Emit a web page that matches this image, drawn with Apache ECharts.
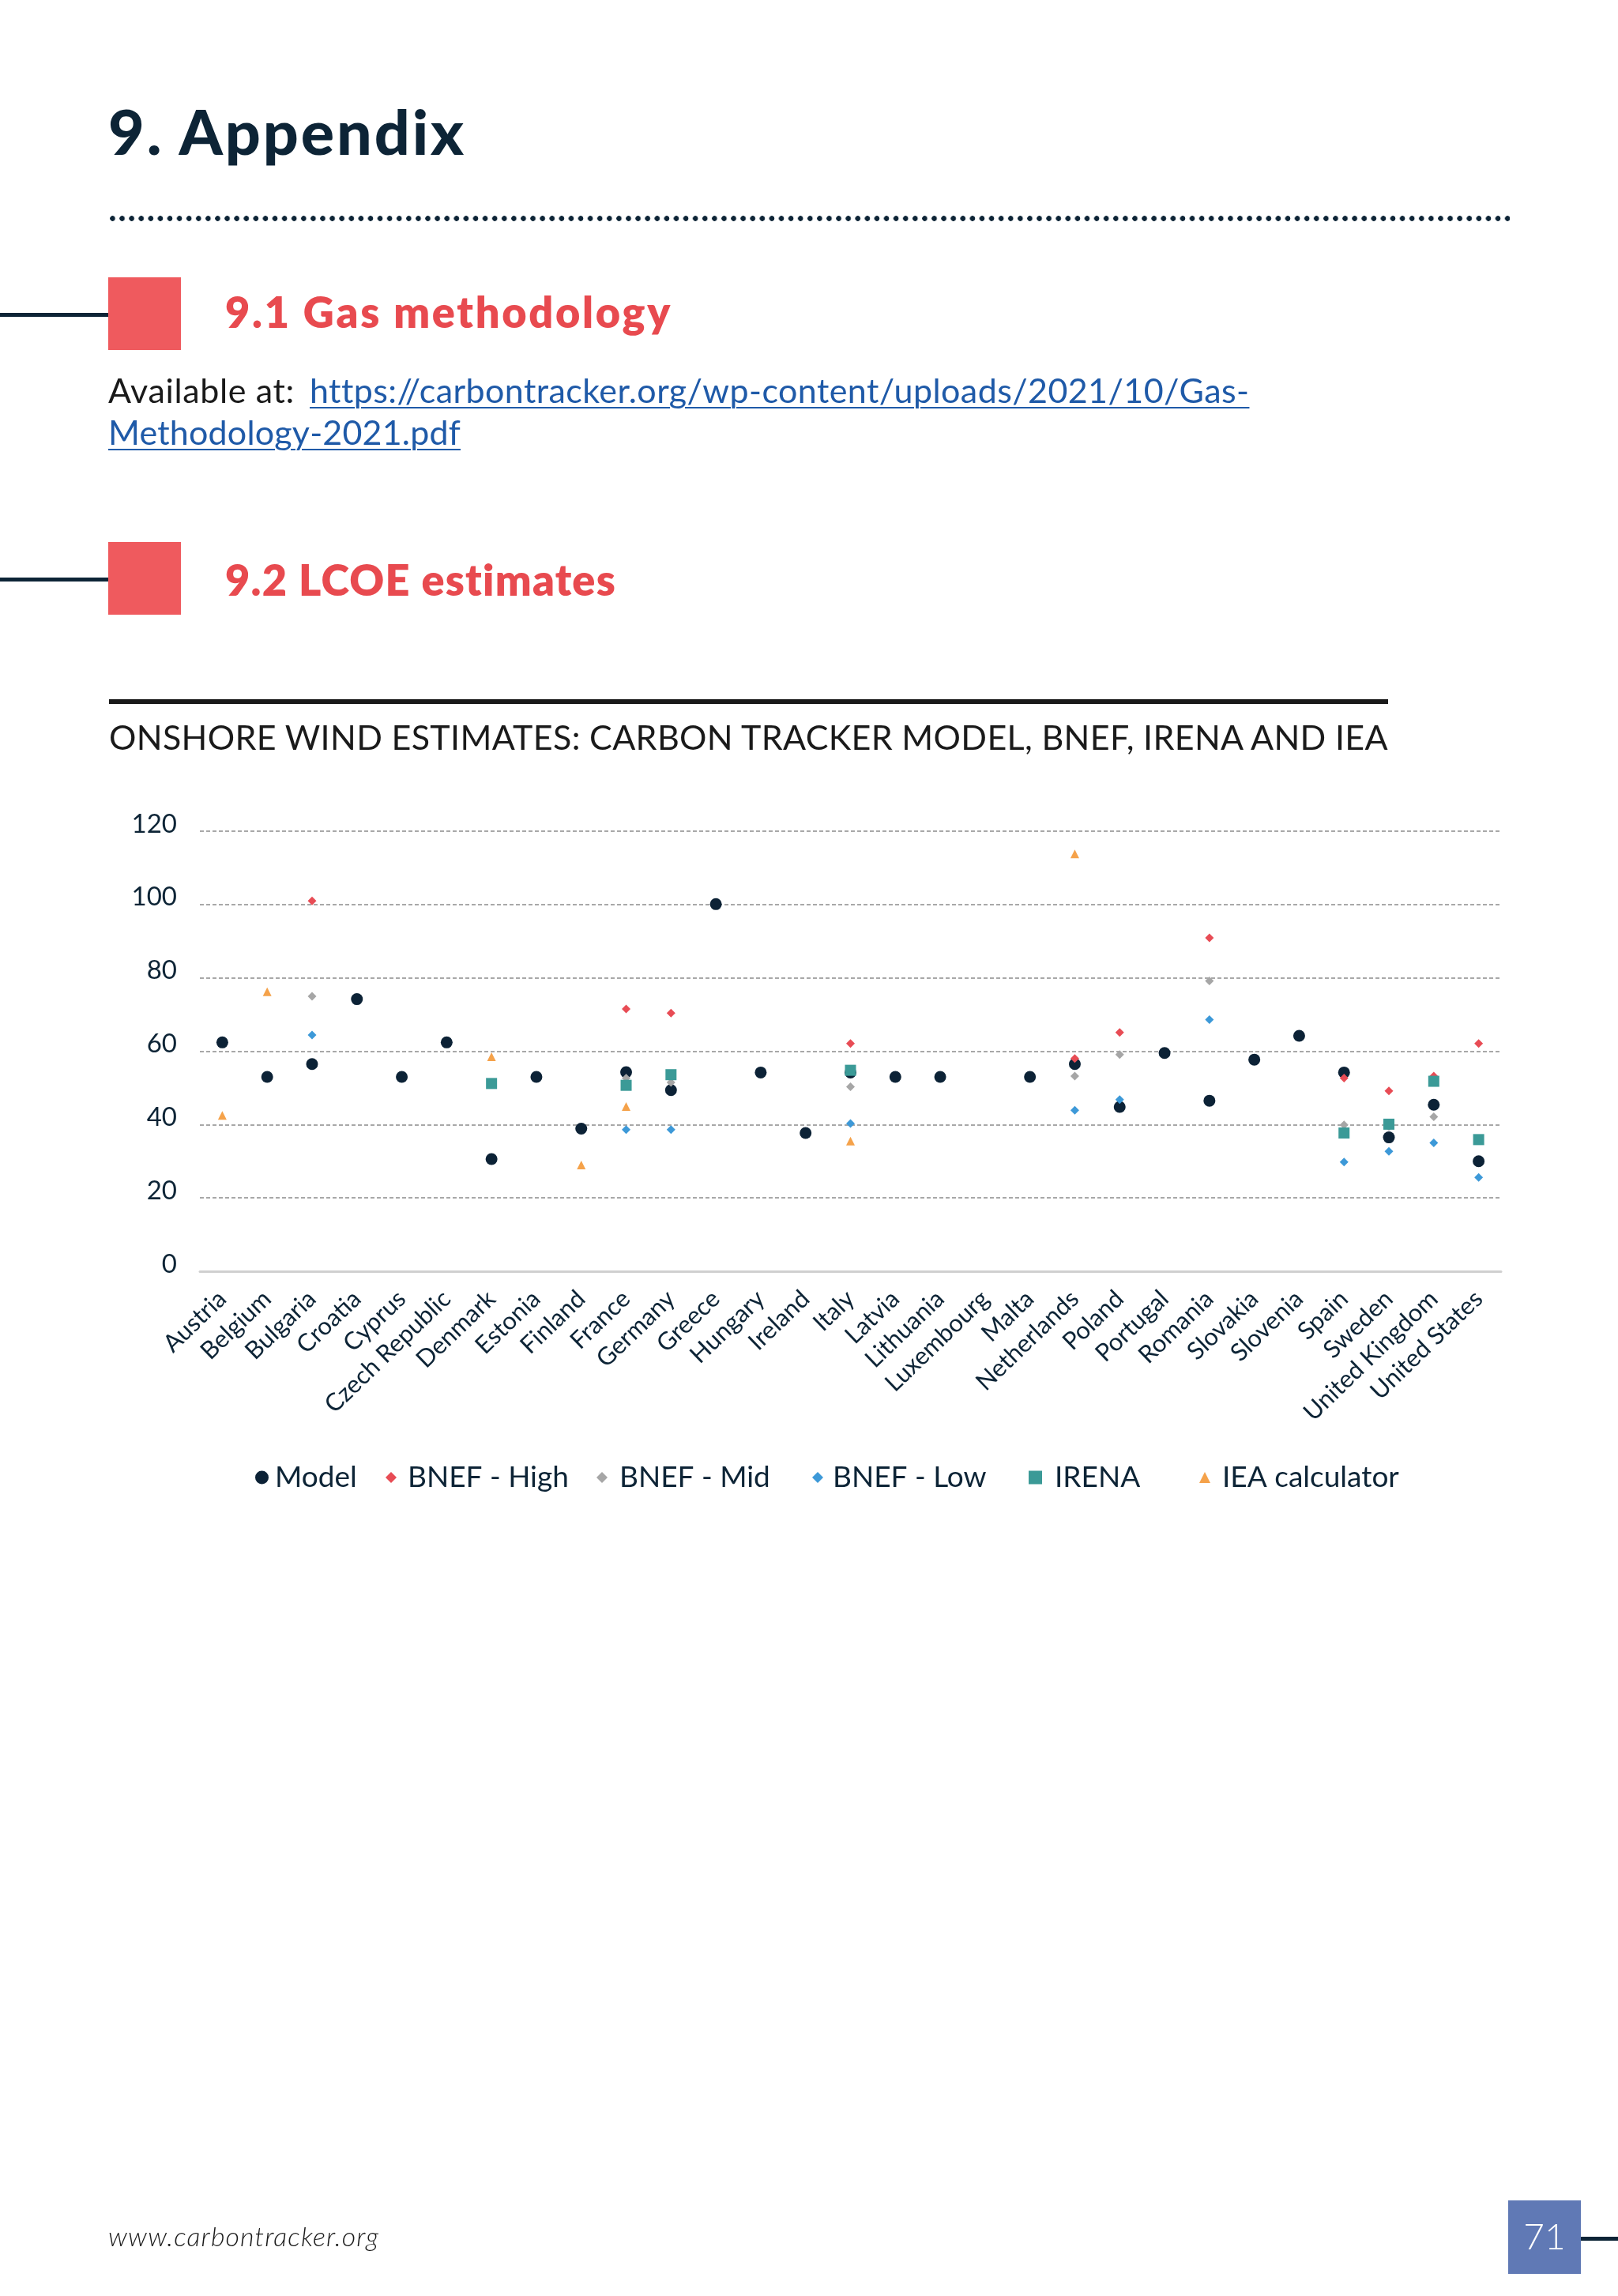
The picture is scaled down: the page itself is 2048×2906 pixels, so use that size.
<!DOCTYPE html>
<html><head><meta charset="utf-8">
<script src="https://cdn.jsdelivr.net/npm/echarts/dist/echarts.min.js"></script>
<style>
html,body{margin:0;padding:0;background:#fff;}
#page{position:relative;width:2048px;height:2906px;overflow:hidden;background:#fff;font-family:Lato,'Noto Sans',sans-serif;}
#chart{position:absolute;left:0;top:0;width:2048px;height:2906px;}
.t{position:absolute;white-space:nowrap;line-height:1;margin:0;}
.blk{position:absolute;}
a{color:#1f5aa8;text-decoration:underline;text-decoration-thickness:2px;text-underline-offset:5px;}
</style></head>
<body><div id="page">
<div id="chart"></div>

<div class="t" data-w="453" style="left:137px;top:126px;font-size:79px;font-weight:900;color:#0d2436;">9. Appendix</div>
<div class="blk" style="left:139px;top:273px;width:1772px;height:7px;background-image:radial-gradient(circle at 3.5px 3.5px,#0d2436 3px,transparent 3.6px);background-size:12.1px 7px;background-repeat:repeat-x;"></div>

<div class="blk" style="left:0;top:396px;width:137px;height:5px;background:#0d2436;"></div>
<div class="blk" style="left:137px;top:351px;width:92px;height:92px;background:#ef5a5e;"></div>
<div class="t" data-w="566" style="left:285px;top:368px;font-size:54px;font-weight:800;color:#e84a4f;">9.1 Gas methodology</div>

<div class="t" data-w="236" style="left:137px;top:472px;font-size:43px;color:#1a1a1a;">Available at:</div>
<div class="t" data-w="1188" style="left:392px;top:472px;font-size:43px;"><a>https://carbontracker.org/wp-content/uploads/2021/10/Gas-</a></div>
<div class="t" data-w="446" style="left:137px;top:525px;font-size:43px;"><a>Methodology-2021.pdf</a></div>

<div class="blk" style="left:0;top:731px;width:137px;height:5px;background:#0d2436;"></div>
<div class="blk" style="left:137px;top:686px;width:92px;height:92px;background:#ef5a5e;"></div>
<div class="t" data-w="496" style="left:285px;top:707px;font-size:54px;font-weight:800;color:#e84a4f;">9.2 LCOE estimates</div>

<div class="blk" style="left:138px;top:885px;width:1619px;height:6px;background:#1a1a1a;"></div>
<div class="t" data-w="1619" style="left:138px;top:911px;font-size:43px;color:#1a1a1a;">ONSHORE WIND ESTIMATES: CARBON TRACKER MODEL, BNEF, IRENA AND IEA</div>

<div class="t" data-w="343" style="left:137px;top:2813px;font-size:34px;font-style:italic;font-weight:300;color:#1a1a1a;">www.carbontracker.org</div>
<div class="blk" style="left:1909px;top:2785px;width:92px;height:93px;background:#6079b5;"></div>
<div class="blk" style="left:2001px;top:2831px;width:47px;height:5px;background:#0d2436;"></div>
<div class="t" style="left:1909px;width:92px;text-align:center;top:2807px;font-size:46px;font-weight:300;color:#ffffff;">71</div>
</div>
<script>
const categories = ['Austria','Belgium','Bulgaria','Croatia','Cyprus','Czech Republic','Denmark','Estonia','Finland','France','Germany','Greece','Hungary','Ireland','Italy','Latvia','Lithuania','Luxembourg','Malta','Netherlands','Poland','Portugal','Romania','Slovakia','Slovenia','Spain','Sweden','United Kingdom','United States'];
const yTicks = [0, 20, 40, 60, 80, 100, 120];
const modelValues = [62.4, 53.0, 56.5, 74.2, 53.0, 62.4, 30.6, 53.0, 38.9, 54.3, 49.4, 100.1, 54.2, 37.7, 54.2, 53.0, 53.0, null, 53.0, 56.5, 44.8, 59.5, 46.5, 57.7, 64.2, 54.2, 36.5, 45.4, 30.0];
const bnefHighValues = [null, null, 101.0, null, null, null, null, null, null, 71.5, 70.4, null, null, null, 62.1, null, null, null, null, 58.0, 65.1, null, 90.9, null, null, 52.7, 49.2, 53.2, 62.1];
const bnefMidValues = [null, null, 75.0, null, null, null, null, null, null, 52.7, 51.5, null, null, null, 50.3, null, null, null, null, 53.2, 59.1, null, 79.2, null, null, 39.9, 39.5, 42.1, null];
const bnefLowValues = [null, null, 64.4, null, null, null, null, null, null, 38.6, 38.6, null, null, null, 40.3, null, null, null, null, 43.9, 46.8, null, 68.6, null, null, 29.8, 32.7, 35.0, 25.6];
const irenaValues = [null, null, null, null, null, null, 51.2, null, null, 50.7, 53.6, null, null, null, 54.8, null, null, null, null, null, null, null, null, null, null, 37.7, 40.1, 51.8, 35.9];
const ieaValues = [42.5, 76.2, null, null, null, null, 58.5, null, 29.0, 44.9, null, null, null, null, 35.5, null, null, null, null, 113.8, null, null, null, null, null, null, null, null, null];

const seriesNames = ['Model', 'BNEF - High', 'BNEF - Mid', 'BNEF - Low', 'IRENA', 'IEA calculator'];
const seriesColors = ['#0c2236', '#e84c55', '#a6a6a6', '#3d99d8', '#3b9a97', '#f5a24a'];

const fix = a => a.map(v => v == null ? '-' : v);
const navy = '#0d2436';

function fitTexts(){
  document.querySelectorAll('[data-w]').forEach(el => {
    el.style.letterSpacing = '0px';
    const target = parseFloat(el.getAttribute('data-w'));
    const w = el.getBoundingClientRect().width;
    const n = el.textContent.length;
    el.style.letterSpacing = ((target - w) / n).toFixed(3) + 'px';
  });
}

function legendItem(name, left, size, pad){
  return {
    data: [name], left: left, top: 1850, padding: 0, itemGap: 0,
    itemWidth: size, itemHeight: size,
    textStyle: {fontSize: 37, color: navy, fontFamily: 'Lato', lineHeight: 40, padding: [0, 0, 0, pad]},
    selectedMode: false
  };
}

const chart = echarts.init(document.getElementById('chart'), null, {renderer: 'canvas'});
chart.setOption({
  animation: false,
  textStyle: {fontFamily: 'Lato'},
  grid: {left: 253, right: 148, top: 1052, bottom: 1297, containLabel: false},
  legend: [
    legendItem('Model', 323, 17, 3),
    legendItem('BNEF - High', 488, 14, 9),
    legendItem('BNEF - Mid', 755, 14, 10),
    legendItem('BNEF - Low', 1028, 14, 7),
    legendItem('IRENA', 1302, 17, 11),
    legendItem('IEA calculator', 1518, 14, 10)
  ],
  xAxis: {
    type: 'category', data: categories, boundaryGap: true,
    axisTick: {show: false},
    axisLine: {show: true, lineStyle: {color: '#d0d0d0', width: 3}},
    axisLabel: {interval: 0, rotate: 44, fontSize: 31, color: navy, margin: 30, fontFamily: 'Lato'},
    splitLine: {show: false}
  },
  yAxis: {
    type: 'value', min: yTicks[0], max: yTicks[yTicks.length - 1], interval: 20,
    axisLine: {show: false}, axisTick: {show: false},
    axisLabel: {fontSize: 33, color: navy, margin: 29, verticalAlign: 'bottom', lineHeight: 18, fontFamily: 'Lato'},
    splitLine: {show: true, lineStyle: {type: [5, 3], color: '#8c8c8c', width: 1.5}}
  },
  series: [
    {name: seriesNames[0], type: 'scatter', symbol: 'circle', symbolSize: 15, data: fix(modelValues), itemStyle: {color: seriesColors[0], opacity: 1}, z: 2},
    {name: seriesNames[1], type: 'scatter', symbol: 'diamond', symbolSize: 11, data: fix(bnefHighValues), itemStyle: {color: seriesColors[1], opacity: 1}, z: 3},
    {name: seriesNames[2], type: 'scatter', symbol: 'diamond', symbolSize: 11, data: fix(bnefMidValues), itemStyle: {color: seriesColors[2], opacity: 1}, z: 4},
    {name: seriesNames[3], type: 'scatter', symbol: 'diamond', symbolSize: 11, data: fix(bnefLowValues), itemStyle: {color: seriesColors[3], opacity: 1}, z: 5},
    {name: seriesNames[4], type: 'scatter', symbol: 'rect', symbolSize: 14, data: fix(irenaValues), itemStyle: {color: seriesColors[4], opacity: 1}, z: 6},
    {name: seriesNames[5], type: 'scatter', symbol: 'triangle', symbolSize: 11, data: fix(ieaValues), itemStyle: {color: seriesColors[5], opacity: 1}, z: 7}
  ]
});

fitTexts();
if (document.fonts && document.fonts.ready) document.fonts.ready.then(fitTexts);
</script>
</body></html>
